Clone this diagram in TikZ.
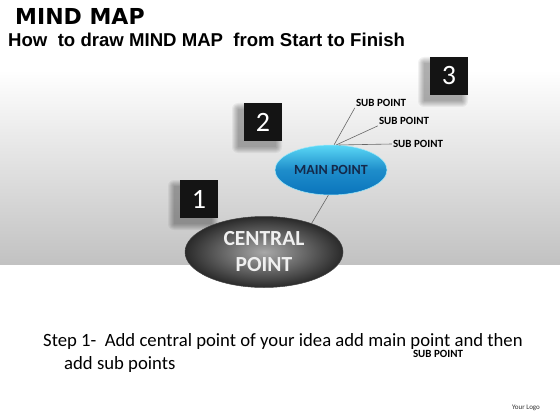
\documentclass[tikz,border=0pt]{standalone}
\usepackage{fontspec}
\setmainfont{Carlito}
\newfontfamily\titlefont{DejaVu Sans}
\newfontfamily\headfont{Liberation Sans}
\usetikzlibrary{shapes.geometric,positioning}
\definecolor{MCyan}{HTML}{5AD8F6}
\definecolor{MBlue}{HTML}{0A74BC}
\definecolor{MNavy}{HTML}{14294A}
\definecolor{CLight}{HTML}{A8A8A8}
\definecolor{CDark}{HTML}{2A2A2A}

\begin{document}
\begin{tikzpicture}[x=1pt,y=-1pt,
    numbox/.style={fill=black!92,text=white,minimum size=38pt,inner sep=0pt,
      font=\fontsize{28}{28}\selectfont},
    subpt/.style={font=\bfseries\fontsize{11}{12}\selectfont,inner sep=1pt},
    link/.style={draw=black!60,line width=0.6pt}]
\useasboundingbox (0,0) rectangle (560,420);
\fill[white] (0,0) rectangle (560,420);
\shade[top color=white,bottom color=black!24] (0,70) rectangle (560,264);

\node[anchor=base west,inner sep=0pt,font=\titlefont\bfseries\fontsize{22}{24}\selectfont] (title) at (15,25) {MIND MAP};
\node[anchor=base west,inner sep=0pt,font=\headfont\bfseries\fontsize{18.6}{20}\selectfont] (subtitle) at (8,47) {How\ \ to draw MIND MAP\ \ from Start to Finish};

% number boxes with soft shadow
\foreach \n/\px/\py in {1/199/199,2/263/122,3/449/76}
{
    \foreach \k in {0,...,6}
        \fill[black,opacity=.05,rounded corners=\k pt] (\px-19-6-\k,\py-19+6-\k) rectangle (\px+19-6+\k,\py+19+6+\k);
    \node[numbox] (num\n) at (\px,\py) {\n};
}

\node[ellipse,minimum width=158pt,minimum height=71pt,inner sep=0pt,
      inner color=CLight,outer color=CDark,draw=black!75,line width=0.5pt,
      text=white!94!black,align=center,font=\bfseries\fontsize{21.5}{26}\selectfont] (central) at (264,252) {CENTRAL\\POINT};
\node[ellipse,minimum width=112pt,minimum height=50pt,inner sep=0pt,
      top color=MCyan,bottom color=MBlue,middle color=MBlue!75!MCyan,draw=MCyan!60!white,line width=0.5pt,
      text=MNavy,font=\bfseries\fontsize{14}{16}\selectfont] (main) at (331,170) {MAIN POINT};

\foreach \i/\px/\py in {1/381/103,2/404/121,3/418/144}
    \node[subpt] (sub\i) at (\px,\py) {SUB POINT};

\draw[link] (central.31) -- (main.-96);
\draw[link] (main.83) -- (sub1.south west);
\draw[link] (main.78) -- (sub2.south west);
\draw[link] (main.73) -- (sub3.west);

\node[anchor=base west,inner sep=0pt,font=\fontsize{18.7}{20}\selectfont] (step1) at (43,346) {Step 1-\ \ Add central point of your idea add main point and then};
\node[anchor=base west,inner sep=0pt,font=\fontsize{18.7}{20}\selectfont] (step2) at (64,369) {add sub points};
\node[subpt] (subx) at (438,354) {SUB POINT};
\node[font=\fontsize{7}{8}\selectfont,text=black!80] (logo) at (526,408) {Your Logo};
\end{tikzpicture}
\end{document}
